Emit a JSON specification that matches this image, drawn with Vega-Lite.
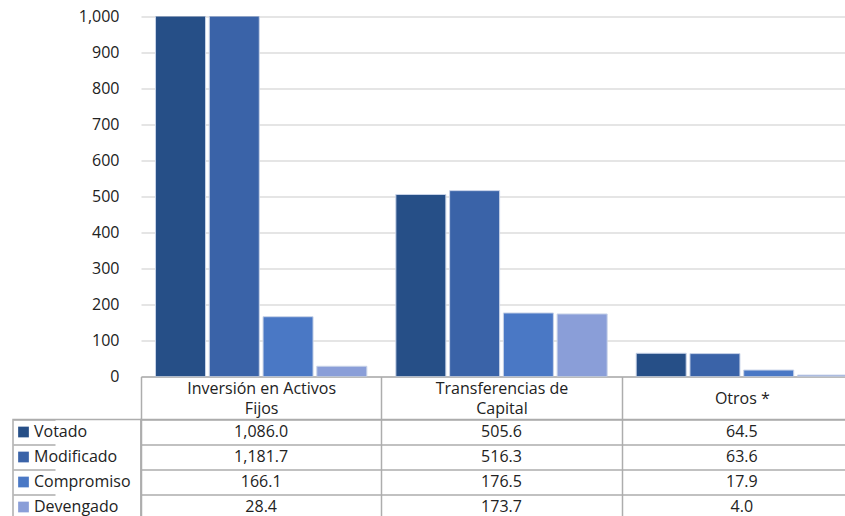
{
  "$schema": "https://vega.github.io/schema/vega-lite/v6.json",
  "autosize": {"type": "pad"},
  "padding": {"left": 12, "top": 8.5, "right": 0, "bottom": 0},
  "bounds": "flush",
  "columns": 2,
  "spacing": {"row": 43, "column": 0},
  "datasets": {
    "budget": [
      {"category": "Inversión en Activos Fijos", "series": "Votado", "value": 1086.0},
      {"category": "Inversión en Activos Fijos", "series": "Modificado", "value": 1181.7},
      {"category": "Inversión en Activos Fijos", "series": "Compromiso", "value": 166.1},
      {"category": "Inversión en Activos Fijos", "series": "Devengado", "value": 28.4},
      {"category": "Transferencias de Capital", "series": "Votado", "value": 505.6},
      {"category": "Transferencias de Capital", "series": "Modificado", "value": 516.3},
      {"category": "Transferencias de Capital", "series": "Compromiso", "value": 176.5},
      {"category": "Transferencias de Capital", "series": "Devengado", "value": 173.7},
      {"category": "Otros *", "series": "Votado", "value": 64.5},
      {"category": "Otros *", "series": "Modificado", "value": 63.6},
      {"category": "Otros *", "series": "Compromiso", "value": 17.9},
      {"category": "Otros *", "series": "Devengado", "value": 4.0}
    ],
    "seriesList": [
      {"series": "Votado"},
      {"series": "Modificado"},
      {"series": "Compromiso"},
      {"series": "Devengado"}
    ]
  },
  "resolve": {"scale": {"x": "independent", "y": "independent"}},
  "concat": [
    {
      "width": 128,
      "height": 360,
      "data": {"values": []},
      "mark": "point"
    },
    {
      "width": 721,
      "height": 360,
      "data": {"name": "budget"},
      "mark": {"type": "bar", "clip": true, "stroke": "#c8d3e8", "strokeWidth": 1},
      "encoding": {
        "x": {
          "field": "category",
          "type": "nominal",
          "sort": ["Inversión en Activos Fijos", "Transferencias de Capital", "Otros *"],
          "scale": {"paddingInner": 0, "paddingOuter": 0},
          "axis": {
            "title": null,
            "labelAngle": 0,
            "tickBand": "extent",
            "tickSize": 43,
            "tickColor": "#adadad",
            "tickWidth": 1.5,
            "domainColor": "#adadad",
            "domainWidth": 1.5,
            "labelPadding": -31,
            "labelBaseline": {"condition": {"test": "datum.value == 'Otros *'", "value": "line-top"}, "value": "middle"},
            "labelLineHeight": 20,
            "labelFontSize": 16,
            "labelColor": "#222222",
            "labelFont": "Open Sans",
            "labelLimit": 300,
            "labelExpr": "datum.value == 'Inversión en Activos Fijos' ? ['Inversión en Activos', 'Fijos'] : datum.value == 'Transferencias de Capital' ? ['Transferencias de', 'Capital'] : datum.value"
          }
        },
        "xOffset": {
          "field": "series",
          "type": "nominal",
          "sort": ["Votado", "Modificado", "Compromiso", "Devengado"],
          "scale": {"paddingInner": 0.07, "paddingOuter": 0.27}
        },
        "y": {
          "field": "value",
          "type": "quantitative",
          "scale": {"domain": [0, 1000], "nice": false},
          "axis": {
            "title": null,
            "values": [0, 100, 200, 300, 400, 500, 600, 700, 800, 900, 1000],
            "format": ",.0f",
            "ticks": false,
            "domain": false,
            "labelPadding": 22,
            "gridColor": "#dcdcdc",
            "gridWidth": 1.5,
            "labelFontSize": 16,
            "labelColor": "#222222",
            "labelFont": "Open Sans"
          }
        },
        "color": {
          "field": "series",
          "type": "nominal",
          "scale": {
            "domain": ["Votado", "Modificado", "Compromiso", "Devengado"],
            "range": ["#264f87", "#3a63a8", "#4a78c5", "#8a9ed8"]
          },
          "legend": null
        }
      }
    },
    {
      "width": 128,
      "height": 100,
      "data": {"name": "seriesList"},
      "view": {"stroke": "#adadad", "strokeWidth": 1.5},
      "encoding": {
        "y": {
          "field": "series",
          "type": "nominal",
          "sort": ["Votado", "Modificado", "Compromiso", "Devengado"],
          "scale": {"type": "band", "paddingInner": 0, "paddingOuter": 0},
          "axis": {
            "title": null,
            "grid": true,
            "tickBand": "extent",
            "gridColor": "#adadad",
            "gridWidth": 1.5,
            "labels": false,
            "ticks": false,
            "domain": false
          }
        }
      },
      "layer": [
        {
          "mark": {"type": "square", "size": 115, "filled": true, "opacity": 1},
          "encoding": {
            "x": {
              "datum": "key",
              "type": "nominal",
              "scale": {"type": "band", "domain": ["key", "name"], "range": [0, 42], "paddingInner": 0, "paddingOuter": 0},
              "axis": null
            },
            "color": {
              "field": "series",
              "type": "nominal",
              "scale": {
                "domain": ["Votado", "Modificado", "Compromiso", "Devengado"],
                "range": ["#264f87", "#3a63a8", "#4a78c5", "#8a9ed8"]
              },
              "legend": null
            }
          }
        },
        {
          "mark": {"type": "text", "align": "left", "baseline": "middle", "fontSize": 16, "font": "Open Sans", "color": "#222222"},
          "encoding": {
            "x": {
              "datum": "name",
              "type": "nominal",
              "bandPosition": 0,
              "scale": {"type": "band", "domain": ["key", "name"], "range": [0, 42], "paddingInner": 0, "paddingOuter": 0},
              "axis": null
            },
            "text": {"field": "series", "type": "nominal"}
          }
        }
      ]
    },
    {
      "width": 721,
      "height": 100,
      "data": {"name": "budget"},
      "view": {"stroke": "#adadad", "strokeWidth": 1.5},
      "mark": {"type": "text", "baseline": "middle", "fontSize": 16, "font": "Open Sans", "color": "#222222"},
      "encoding": {
        "x": {
          "field": "category",
          "type": "nominal",
          "sort": ["Inversión en Activos Fijos", "Transferencias de Capital", "Otros *"],
          "scale": {"type": "band", "paddingInner": 0, "paddingOuter": 0},
          "axis": {
            "title": null,
            "grid": true,
            "tickBand": "extent",
            "gridColor": "#adadad",
            "gridWidth": 1.5,
            "labels": false,
            "ticks": false,
            "domain": false
          }
        },
        "y": {
          "field": "series",
          "type": "nominal",
          "sort": ["Votado", "Modificado", "Compromiso", "Devengado"],
          "scale": {"type": "band", "paddingInner": 0, "paddingOuter": 0},
          "axis": {
            "title": null,
            "grid": true,
            "tickBand": "extent",
            "gridColor": "#adadad",
            "gridWidth": 1.5,
            "labels": false,
            "ticks": false,
            "domain": false
          }
        },
        "text": {"field": "value", "type": "quantitative", "format": ",.1f"}
      }
    }
  ],
  "config": {
    "view": {"stroke": null},
    "font": "Open Sans"
  }
}
